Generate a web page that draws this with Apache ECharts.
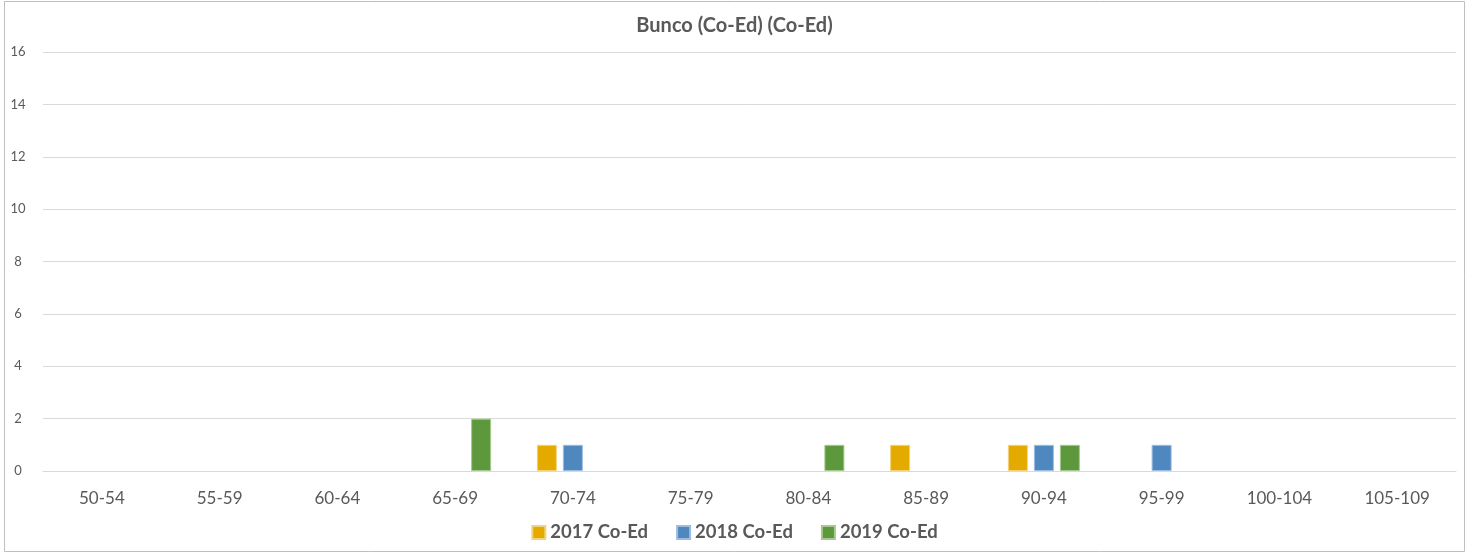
<!DOCTYPE html>
<html>
<head>
<meta charset="utf-8">
<script src="https://cdn.jsdelivr.net/npm/echarts@6/dist/echarts.min.js"></script>
<style>
  html, body { margin: 0; padding: 0; background: #fff; }
  #chart { width: 1469px; height: 554px; }
</style>
</head>
<body>
<div id="chart"></div>
<script>
var categories = ['50-54', '55-59', '60-64', '65-69', '70-74', '75-79', '80-84', '85-89', '90-94', '95-99', '100-104', '105-109'];
var seriesNames = ['2017 Co-Ed', '2018 Co-Ed', '2019 Co-Ed'];
var values2017 = [0, 0, 0, 0, 1, 0, 0, 1, 1, 0, 0, 0];
var values2018 = [0, 0, 0, 0, 1, 0, 0, 0, 1, 1, 0, 0];
var values2019 = [0, 0, 0, 2, 0, 0, 1, 0, 1, 0, 0, 0];
var colors = ['#E5AA00', '#4E88BF', '#5E983C'];
var borders = ['#F2D27A', '#9DBDE0', '#A6C98F'];

var chartDom = document.getElementById('chart');
var chart = echarts.init(chartDom);

var font = 'Lato, "Liberation Sans", sans-serif';

function makeSeries(i, data) {
    return {
        name: seriesNames[i],
        type: 'bar',
        barWidth: 20,
        barGap: '30%',
        itemStyle: {
            color: colors[i],
            borderColor: borders[i],
            borderWidth: 1
        },
        data: data.map(function (v) { return v === 0 ? null : v; })
    };
}

var option = {
    animation: false,
    textStyle: { fontFamily: font },
    title: {
        text: 'Bunco (Co-Ed) (Co-Ed)',
        left: 'center',
        top: 11,
        textStyle: { fontSize: 20, fontWeight: 'bold', color: '#595959', fontFamily: font }
    },
    legend: {
        data: seriesNames,
        bottom: 7,
        left: 'center',
        itemWidth: 13,
        itemHeight: 13,
        itemGap: 28,
        icon: 'rect',
        textStyle: { fontSize: 18.5, fontWeight: 'bold', color: '#595959', fontFamily: font }
    },
    grid: {
        left: 43,
        right: 13,
        top: 52,
        bottom: 83
    },
    xAxis: {
        type: 'category',
        data: categories,
        axisLine: { lineStyle: { color: '#D9D9D9', width: 1 } },
        axisTick: { show: false },
        axisLabel: { fontSize: 17, color: '#595959', margin: 19, fontFamily: font }
    },
    yAxis: {
        type: 'value',
        min: 0,
        max: 16,
        interval: 2,
        axisLine: { show: false },
        axisTick: { show: false },
        splitLine: { lineStyle: { color: '#D9D9D9' } },
        axisLabel: { fontSize: 13, color: '#595959', align: 'center', margin: 25, fontFamily: font }
    },
    graphic: [{
        type: 'rect',
        shape: { x: 4.5, y: 1.5, width: 1460, height: 550 },
        style: { fill: null, stroke: '#BFBFBF', lineWidth: 1 },
        silent: true
    }],
    series: [
        makeSeries(0, values2017),
        makeSeries(1, values2018),
        makeSeries(2, values2019)
    ]
};

option && chart.setOption(option);
</script>
</body>
</html>
